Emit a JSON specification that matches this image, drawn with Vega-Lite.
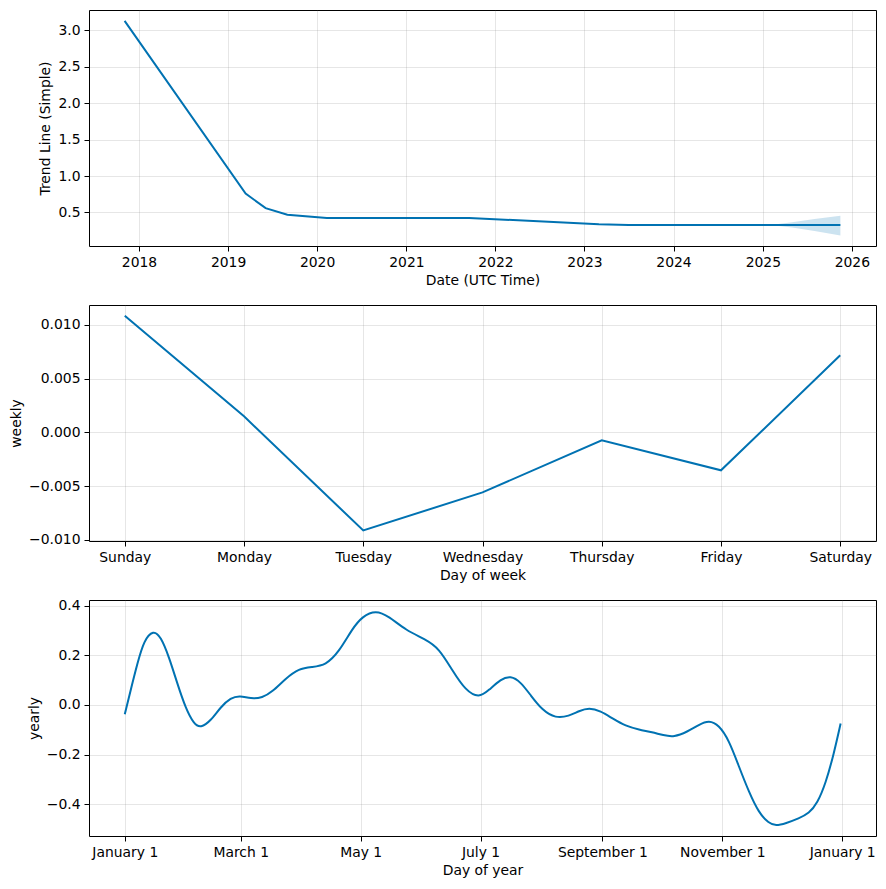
{
  "$schema": "https://vega.github.io/schema/vega-lite/v6.json",
  "padding": {"left": 9, "top": 9, "right": 9, "bottom": 5},
  "bounds": "flush",
  "spacing": 59,
  "background": "white",
  "config": {
    "font": "DejaVu Sans",
    "view": {"stroke": "black", "strokeWidth": 1},
    "axis": {
      "labelFont": "DejaVu Sans", "titleFont": "DejaVu Sans",
      "labelFontSize": 13.9, "titleFontSize": 13.9, "titleFontWeight": "normal",
      "labelColor": "black", "titleColor": "black",
      "tickColor": "black", "tickSize": 5, "tickWidth": 1,
      "labelPadding": 4, "titlePadding": 5,
      "domain": false,
      "grid": true, "gridColor": "#808080", "gridOpacity": 0.2, "gridWidth": 1
    }
  },
  "datasets": {
    "trend": [
      {"ds": "2017-11-03", "trend": 3.13, "lower": 3.13, "upper": 3.13},
      {"ds": "2019-03-14", "trend": 0.76, "lower": 0.76, "upper": 0.76},
      {"ds": "2019-06-04", "trend": 0.56, "lower": 0.56, "upper": 0.56},
      {"ds": "2019-09-01", "trend": 0.47, "lower": 0.47, "upper": 0.47},
      {"ds": "2020-02-10", "trend": 0.425, "lower": 0.425, "upper": 0.425},
      {"ds": "2021-09-15", "trend": 0.425, "lower": 0.425, "upper": 0.425},
      {"ds": "2023-03-01", "trend": 0.34, "lower": 0.34, "upper": 0.34},
      {"ds": "2023-07-01", "trend": 0.33, "lower": 0.33, "upper": 0.33},
      {"ds": "2025-02-01", "trend": 0.33, "lower": 0.33, "upper": 0.33},
      {"ds": "2025-05-01", "trend": 0.33, "lower": 0.295, "upper": 0.365},
      {"ds": "2025-08-01", "trend": 0.33, "lower": 0.245, "upper": 0.41},
      {"ds": "2025-11-15", "trend": 0.33, "lower": 0.185, "upper": 0.455}
    ],
    "weekly": [
      {"day": "Sunday", "weekly": 0.01084},
      {"day": "Monday", "weekly": 0.00149},
      {"day": "Tuesday", "weekly": -0.00912},
      {"day": "Wednesday", "weekly": -0.00558},
      {"day": "Thursday", "weekly": -0.00074},
      {"day": "Friday", "weekly": -0.00353},
      {"day": "Saturday", "weekly": 0.00716}
    ],
    "yearly": [
      {"doy": 0, "yearly": -0.037},
      {"doy": 3.0, "yearly": 0.06},
      {"doy": 6.4, "yearly": 0.167},
      {"doy": 9.8, "yearly": 0.261},
      {"doy": 14.5, "yearly": 0.302},
      {"doy": 18.3, "yearly": 0.276},
      {"doy": 22.5, "yearly": 0.194},
      {"doy": 26.7, "yearly": 0.087},
      {"doy": 31.0, "yearly": -0.014},
      {"doy": 35.2, "yearly": -0.077},
      {"doy": 38.6, "yearly": -0.093},
      {"doy": 43.7, "yearly": -0.064},
      {"doy": 48.8, "yearly": -0.008},
      {"doy": 53.9, "yearly": 0.029},
      {"doy": 58.6, "yearly": 0.038},
      {"doy": 64.1, "yearly": 0.025},
      {"doy": 70.0, "yearly": 0.029},
      {"doy": 75.1, "yearly": 0.053},
      {"doy": 81.9, "yearly": 0.107},
      {"doy": 88.6, "yearly": 0.147},
      {"doy": 95.4, "yearly": 0.153},
      {"doy": 102.2, "yearly": 0.16},
      {"doy": 109.0, "yearly": 0.214},
      {"doy": 115.8, "yearly": 0.308},
      {"doy": 120.9, "yearly": 0.357},
      {"doy": 127.7, "yearly": 0.382},
      {"doy": 134.4, "yearly": 0.357},
      {"doy": 143.0, "yearly": 0.301},
      {"doy": 153.1, "yearly": 0.264},
      {"doy": 159.9, "yearly": 0.228},
      {"doy": 166.6, "yearly": 0.14},
      {"doy": 173.4, "yearly": 0.058},
      {"doy": 180.2, "yearly": 0.028},
      {"doy": 185.3, "yearly": 0.06},
      {"doy": 191.3, "yearly": 0.104},
      {"doy": 196.3, "yearly": 0.118},
      {"doy": 201.4, "yearly": 0.093},
      {"doy": 206.5, "yearly": 0.039},
      {"doy": 212.4, "yearly": -0.021},
      {"doy": 219.2, "yearly": -0.054},
      {"doy": 226.0, "yearly": -0.045},
      {"doy": 231.1, "yearly": -0.024},
      {"doy": 236.2, "yearly": -0.011},
      {"doy": 242.1, "yearly": -0.024},
      {"doy": 248.0, "yearly": -0.054},
      {"doy": 254.9, "yearly": -0.085},
      {"doy": 261.6, "yearly": -0.099},
      {"doy": 268.4, "yearly": -0.11},
      {"doy": 274.0, "yearly": -0.122},
      {"doy": 279.4, "yearly": -0.13},
      {"doy": 286.2, "yearly": -0.108},
      {"doy": 292.2, "yearly": -0.079},
      {"doy": 297.2, "yearly": -0.062},
      {"doy": 302.3, "yearly": -0.081},
      {"doy": 307.4, "yearly": -0.142},
      {"doy": 312.5, "yearly": -0.249},
      {"doy": 317.5, "yearly": -0.35},
      {"doy": 322.6, "yearly": -0.435},
      {"doy": 327.7, "yearly": -0.477},
      {"doy": 331.2, "yearly": -0.487},
      {"doy": 336.3, "yearly": -0.477},
      {"doy": 343.0, "yearly": -0.457},
      {"doy": 348.1, "yearly": -0.437},
      {"doy": 352.3, "yearly": -0.397},
      {"doy": 356.6, "yearly": -0.316},
      {"doy": 360.8, "yearly": -0.195},
      {"doy": 364.2, "yearly": -0.075}
    ]
  },
  "vconcat": [
    {
      "width": 787, "height": 236,
      "data": {"name": "trend"},
      "encoding": {
        "x": {"field": "ds", "type": "temporal", "title": "Date (UTC Time)",
              "scale": {"type": "utc", "domain": [{"year": 2017, "month": 6, "date": 10, "utc": true}, {"year": 2026, "month": 4, "date": 10, "utc": true}]},
              "axis": {"format": "%Y", "tickCount": {"interval": "year", "step": 1}, "labelFlush": false}}
      },
      "layer": [
        {
          "mark": {"type": "area", "color": "#0072B2", "opacity": 0.2},
          "encoding": {
            "y": {"field": "lower", "type": "quantitative"},
            "y2": {"field": "upper"}
          }
        },
        {
          "mark": {"type": "line", "color": "#0072B2", "strokeWidth": 2},
          "encoding": {
            "y": {"field": "trend", "type": "quantitative", "title": "Trend Line (Simple)",
                  "scale": {"domain": [0.04, 3.28], "nice": false, "zero": false},
                  "axis": {"values": [0.5, 1, 1.5, 2, 2.5, 3], "format": ".1f", "labelFlush": false}}
          }
        }
      ]
    },
    {
      "width": 787, "height": 236,
      "data": {"name": "weekly"},
      "mark": {"type": "line", "color": "#0072B2", "strokeWidth": 2},
      "encoding": {
        "x": {"field": "day", "type": "nominal", "title": "Day of week",
              "sort": ["Sunday", "Monday", "Tuesday", "Wednesday", "Thursday", "Friday", "Saturday"],
              "scale": {"type": "point", "padding": 0.3},
              "axis": {"labelAngle": 0}},
        "y": {"field": "weekly", "type": "quantitative", "title": "weekly",
              "scale": {"domain": [-0.0101, 0.01184], "nice": false, "zero": false},
              "axis": {"values": [-0.01, -0.005, 0, 0.005, 0.01], "format": ".3f", "labelFlush": false}}
      }
    },
    {
      "width": 787, "height": 236,
      "data": {"name": "yearly"},
      "mark": {"type": "line", "color": "#0072B2", "strokeWidth": 2, "interpolate": "basis"},
      "encoding": {
        "x": {"field": "doy", "type": "quantitative", "title": "Day of year",
              "scale": {"domain": [-18.2, 382.2], "nice": false, "zero": false},
              "axis": {"values": [0, 59, 120, 181, 243, 304, 365], "labelFlush": false,
                       "labelExpr": "['January 1','March 1','May 1','July 1','September 1','November 1','January 1'][indexof([0,59,120,181,243,304,365], datum.value)]"}},
        "y": {"field": "yearly", "type": "quantitative", "title": "yearly",
              "scale": {"domain": [-0.528, 0.423], "nice": false, "zero": false},
              "axis": {"values": [-0.4, -0.2, 0, 0.2, 0.4], "format": ".1f", "labelFlush": false}}
      }
    }
  ]
}
